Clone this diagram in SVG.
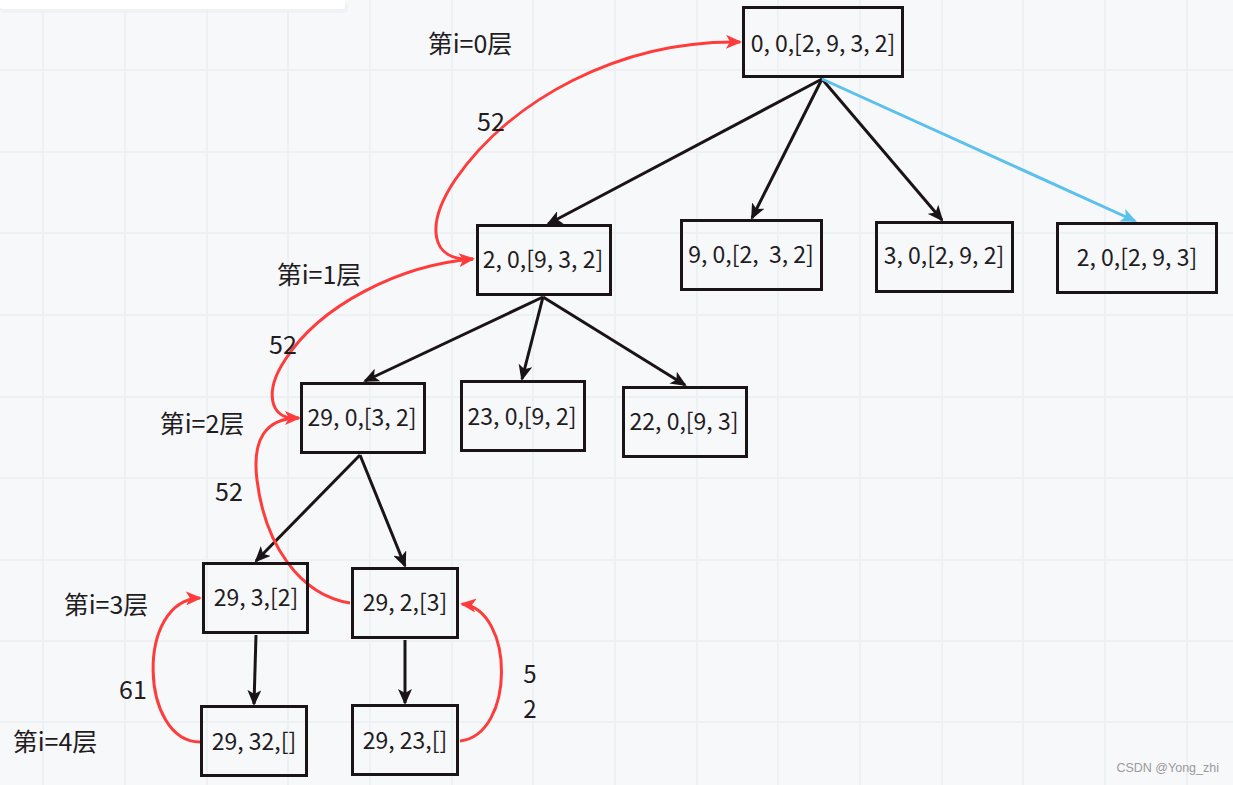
<svg xmlns="http://www.w3.org/2000/svg" width="1233" height="785" viewBox="0 0 1233 785">
<style>
.bx{fill:none;stroke:#1a1416;stroke-width:3}
.nt{font-family:"Noto Sans CJK SC","Noto Sans",sans-serif;font-size:23px;fill:#231c1f;text-anchor:middle;white-space:pre}
.lb{font-family:"Noto Sans CJK SC","Noto Sans",sans-serif;font-size:25px;fill:#231c1f;text-anchor:middle}
.bl{fill:none;stroke:#1a1416;stroke-width:3}
.bu{fill:none;stroke:#5bc0eb;stroke-width:3}
.rd{fill:none;stroke:#ff3c3c;stroke-width:3}
.grid{stroke:#eceef1;stroke-width:1.5;fill:none}
</style>
<defs>
<marker id="ab" viewBox="0 0 16 14" refX="14" refY="7" markerWidth="16" markerHeight="14" orient="auto" markerUnits="userSpaceOnUse"><path d="M0,0 L16,7 L0,14 L4,7 Z" fill="#1a1416"/></marker>
<marker id="abl" viewBox="0 0 16 14" refX="14" refY="7" markerWidth="16" markerHeight="14" orient="auto" markerUnits="userSpaceOnUse"><path d="M0,0 L16,7 L0,14 L4,7 Z" fill="#5bc0eb"/></marker>
<marker id="ar" viewBox="0 0 16 14" refX="14" refY="7" markerWidth="16" markerHeight="14" orient="auto" markerUnits="userSpaceOnUse"><path d="M0,0 L16,7 L0,14 L4,7 Z" fill="#ff3c3c"/></marker>
</defs>
<rect width="1233" height="785" fill="#f7f8fa"/>
<path class="grid" d="M43,0V785M125,0V785M207,0V785M288,0V785M370,0V785M452,0V785M533,0V785M615,0V785M697,0V785M778,0V785M860,0V785M942,0V785M1023,0V785M1105,0V785M1187,0V785M0,70H1233M0,152H1233M0,233H1233M0,315H1233M0,397H1233M0,478H1233M0,560H1233M0,641H1233M0,722H1233"/>
<rect x="0" y="2" width="348" height="11" rx="4" fill="#eef0f3" opacity="0.7"/>
<rect x="0" y="-4" width="345" height="13" rx="3" fill="#ffffff"/>
<g id="connectors">
<path class="bl" d="M822,79 L548,224" marker-end="url(#ab)"/>
<path class="bl" d="M822,79 L752,218" marker-end="url(#ab)"/>
<path class="bl" d="M822,79 L942,220" marker-end="url(#ab)"/>
<path class="bu" d="M822,79 L1135,221" marker-end="url(#abl)"/>
<path class="bl" d="M543,297 L365,381" marker-end="url(#ab)"/>
<path class="bl" d="M543,297 L522,379" marker-end="url(#ab)"/>
<path class="bl" d="M543,297 L685,385" marker-end="url(#ab)"/>
<path class="bl" d="M360,455 L256,561" marker-end="url(#ab)"/>
<path class="bl" d="M360,455 L405,566" marker-end="url(#ab)"/>
<path class="bl" d="M256,635 L254,704" marker-end="url(#ab)"/>
<path class="bl" d="M405,640 L405,703" marker-end="url(#ab)"/>
<path class="rd" d="M473,259 C430,262 425,225 455,180 C510,100 620,40 740,42" marker-end="url(#ar)"/>
<path class="rd" d="M298,418 C268,420 265,390 285,360 C320,305 400,265 473,259" marker-end="url(#ar)"/>
<path class="rd" d="M350,603 C300,595 265,545 257,480 C252,440 265,418 299,418" marker-end="url(#ar)"/>
<path class="rd" d="M200,742 C140,742 135,600 200,598" marker-end="url(#ar)"/>
<path class="rd" d="M460,741 C515,735 515,610 462,604" marker-end="url(#ar)"/>
</g>
<g id="n0"><rect class="bx" x="743.5" y="7.5" width="159" height="69"/><text class="nt" x="823" y="52">0, 0,[2, 9, 3, 2]</text></g>
<g id="n1"><rect class="bx" x="477.5" y="225.5" width="133" height="69"/><text class="nt" x="543" y="268">2, 0,[9, 3, 2]</text></g>
<g id="n2"><rect class="bx" x="681.5" y="220.5" width="140" height="69"/><text class="nt" x="751" y="263">9, 0,[2,  3, 2]</text></g>
<g id="n3"><rect class="bx" x="876.5" y="222.5" width="136" height="69"/><text class="nt" x="944" y="264">3, 0,[2, 9, 2]</text></g>
<g id="n4"><rect class="bx" x="1057.5" y="223.5" width="159" height="69"/><text class="nt" x="1137" y="266">2, 0,[2, 9, 3]</text></g>
<g id="n5"><rect class="bx" x="301.5" y="383.5" width="123" height="69"/><text class="nt" x="362" y="426">29, 0,[3, 2]</text></g>
<g id="n6"><rect class="bx" x="461.5" y="381.5" width="123" height="69"/><text class="nt" x="522" y="425">23, 0,[9, 2]</text></g>
<g id="n7"><rect class="bx" x="623.5" y="387.5" width="123" height="69"/><text class="nt" x="684" y="430">22, 0,[9, 3]</text></g>
<g id="n8"><rect class="bx" x="203.5" y="563.5" width="104" height="69"/><text class="nt" x="256" y="606">29, 3,[2]</text></g>
<g id="n9"><rect class="bx" x="352.5" y="568.5" width="105" height="69"/><text class="nt" x="405" y="611">29, 2,[3]</text></g>
<g id="n10"><rect class="bx" x="201.5" y="706.5" width="105" height="69"/><text class="nt" x="254" y="750">29, 32,[]</text></g>
<g id="n11"><rect class="bx" x="352.5" y="705.5" width="105" height="69"/><text class="nt" x="405" y="749">29, 23,[]</text></g>
<g id="labels">
<text class="lb" x="470" y="53">第i=0层</text>
<text class="lb" x="491" y="131">52</text>
<text class="lb" x="319" y="284">第i=1层</text>
<text class="lb" x="283" y="354">52</text>
<text class="lb" x="202" y="433">第i=2层</text>
<text class="lb" x="229" y="501">52</text>
<text class="lb" x="106" y="614">第i=3层</text>
<text class="lb" x="133" y="699">61</text>
<text class="lb" x="55" y="751">第i=4层</text>
<text class="lb" x="530" y="683" style="font-size:24px"><tspan x="530">5</tspan><tspan x="530" dy="35">2</tspan></text>
</g>
<text x="1219" y="772" font-family="Liberation Sans, sans-serif" font-size="12.5" fill="#9a9a9a" text-anchor="end">CSDN @Yong_zhi</text>
</svg>
